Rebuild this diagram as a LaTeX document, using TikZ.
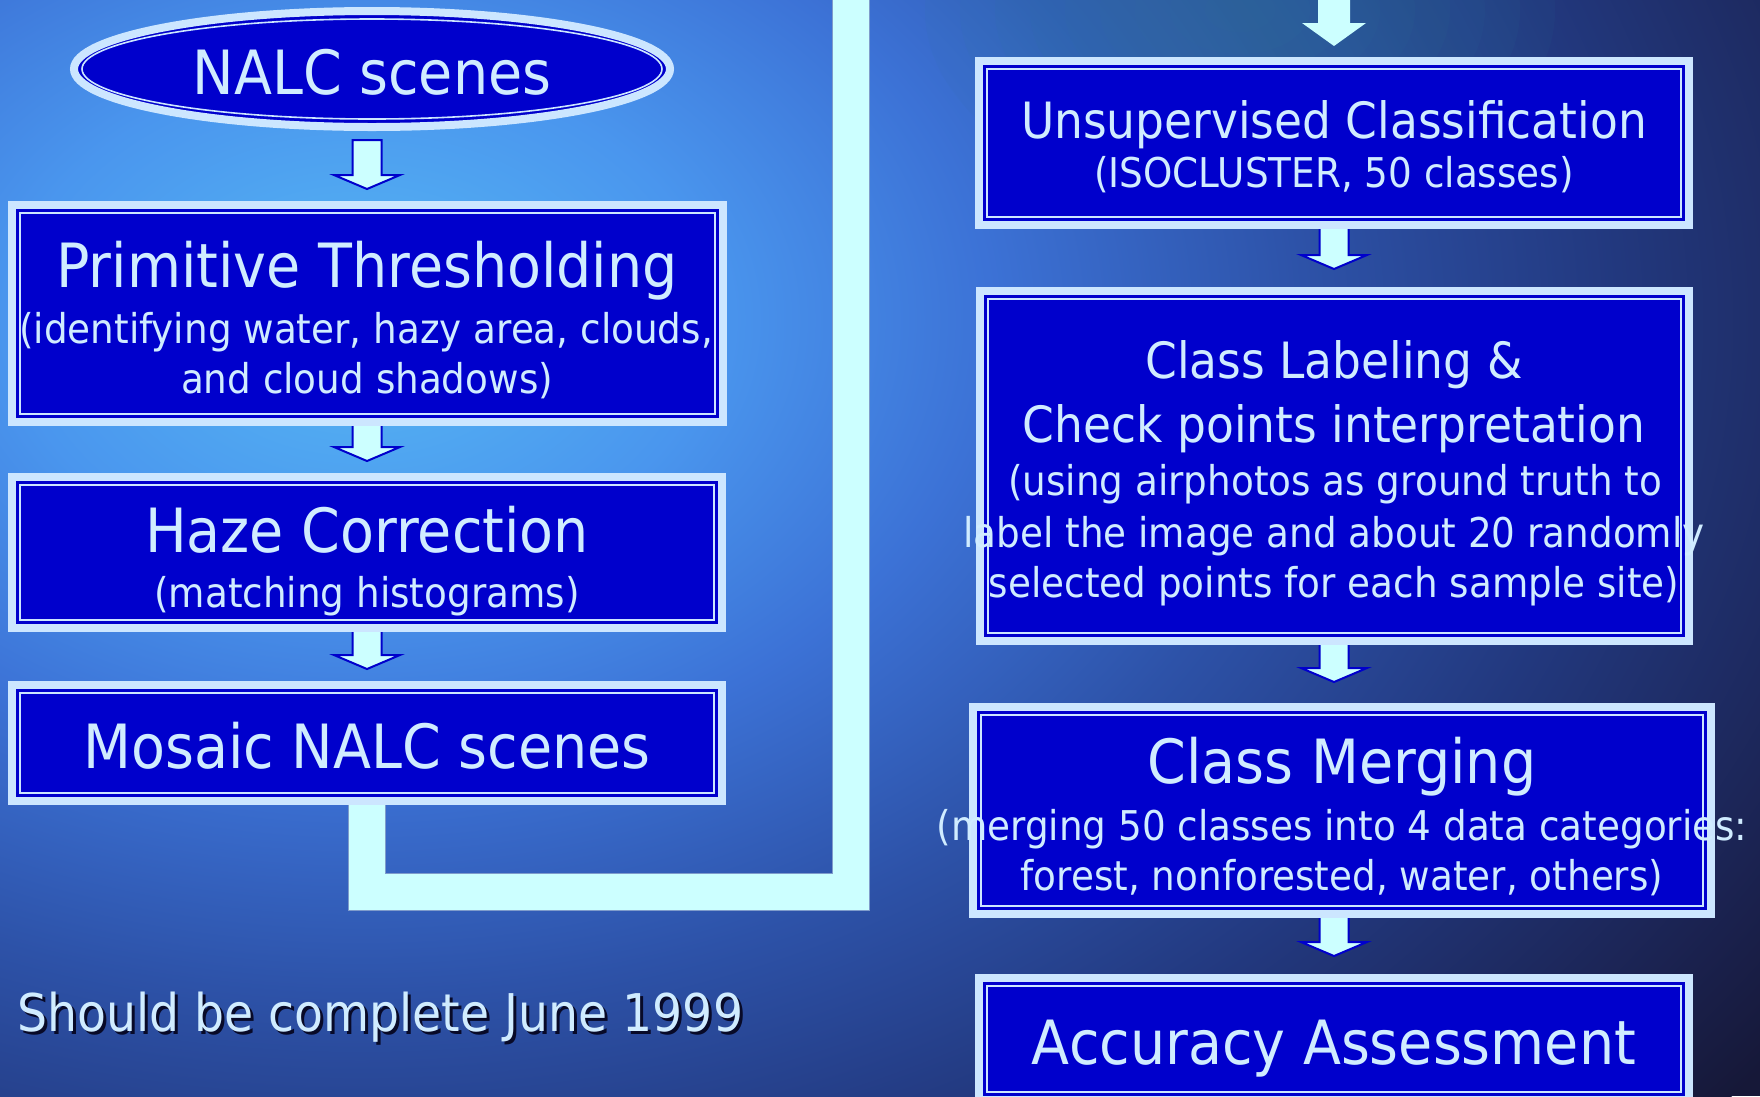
\documentclass[tikz,border=0pt]{standalone}
\usepackage{fontspec}
\setmainfont{DejaVu Sans}[FakeStretch=0.91]
\usetikzlibrary{calc,shapes.geometric}
\definecolor{boxblue}{HTML}{0000CC}
\definecolor{band}{HTML}{CCE6FF}
\definecolor{txt}{HTML}{D0ECFF}
\definecolor{flow}{HTML}{CCFFFF}
\definecolor{flowedge}{HTML}{7F9CCB}
\definecolor{shadowc}{HTML}{080A28}
\definecolor{glow}{HTML}{2F7A9A}
\definecolor{bga}{HTML}{56B8F4}
\definecolor{bgb}{HTML}{4A96EE}
\definecolor{bgc}{HTML}{3C72D6}
\definecolor{bgd}{HTML}{2D52A8}
\definecolor{bge}{HTML}{22387E}
\definecolor{bgf}{HTML}{1B2352}
\definecolor{bgg}{HTML}{161838}
\pgfdeclareradialshading{bgshade}{\pgfpoint{0bp}{0bp}}{color(0bp)=(bga); color(5bp)=(bgb); color(9bp)=(bgc); color(13.5bp)=(bgd); color(18bp)=(bge); color(22.5bp)=(bgf); color(25bp)=(bgg); color(50bp)=(bgg)}
\pgfdeclarelayer{back}
\pgfdeclarelayer{flowlayer}
\pgfsetlayers{back,flowlayer,main}
\tikzset{
  stepbox/.style={rectangle, inner sep=0pt, fill=boxblue, draw=band, line width=8pt,
    path picture={\draw[band, line width=2pt]
      ([shift={(8pt,-8pt)}]path picture bounding box.north west) rectangle
      ([shift={(-8pt,8pt)}]path picture bounding box.south east);}},
  ovalbox/.style={ellipse, inner sep=0pt, fill=boxblue, draw=band, line width=8pt,
    path picture={\draw[band, line width=1.6pt] (path picture bounding box.center)
      ellipse [x radius=290pt, y radius=50pt];}},
  ttl/.style={text=txt, anchor=base, inner sep=0pt, font=\fontsize{61pt}{70pt}\selectfont},
  ttlr/.style={ttl, font=\fontsize{50pt}{60pt}\selectfont},
  subt/.style={ttl, font=\fontsize{41pt}{50pt}\selectfont},
  blockarrow/.style={fill=flow, draw=boxblue, line width=2pt, line join=miter},
  conn/.style={draw=flow, line width=36pt, line join=miter,
    preaction={draw=flowedge, line width=38pt, line join=miter}},
}
% arrow from node #1 (south) to node #2 (north), gap #3, x taken from node #4
\newcommand\flowarrow[4]{%
  \path[blockarrow] let \p1=(#1.south), \p2=(#2.north), \p3=(#4.center) in
    (\x3-14.5pt,\y1) -- (\x3-14.5pt,\y2+#3+14pt) -- (\x3-33pt,\y2+#3+14pt) --
    (\x3,\y2+#3) -- (\x3+33pt,\y2+#3+14pt) -- (\x3+14.5pt,\y2+#3+14pt) -- (\x3+14.5pt,\y1);
}
\begin{document}
\begin{tikzpicture}[x=1pt, y=-1pt]
\useasboundingbox (0,0) rectangle (1760,1096);
\begin{pgfonlayer}{back}
  \fill[bgg] (0,0) rectangle (1760,1096);
  \begin{scope}
    \clip (0,0) rectangle (1760,1096);
    \shade[shading=bgshade] (360,320) ellipse [x radius=1750, y radius=1250];
    \foreach \r in {1,...,9}
      \fill[glow, opacity=0.07] (1240,10) ellipse [x radius=35*\r, y radius=22*\r];
  \end{scope}
\end{pgfonlayer}

% ---- left column ----
\node[ovalbox, minimum width=596pt, minimum height=116pt] (nalc) at (372,69) {};
\node[stepbox, minimum width=711pt, minimum height=217pt] (thresh) at (367,313.5) {};
\node[stepbox, minimum width=710pt, minimum height=151pt] (haze) at (367,552.5) {};
\node[stepbox, minimum width=710pt, minimum height=116pt] (mosaic) at (367,743) {};

% ---- right column ----
\node[stepbox, minimum width=710pt, minimum height=164pt] (unsup) at (1334,143) {};
\node[stepbox, minimum width=709pt, minimum height=350pt] (label) at (1334,466) {};
\node[stepbox, minimum width=738pt, minimum height=207pt] (merge) at (1342,810.5) {};
\node[stepbox, minimum width=710pt, minimum height=122pt] (acc) at (1334,1039) {};

% ---- texts ----
\node[ttl] (tnalc) at (372,94) {NALC scenes};
\node[ttl] (tthresh) at (367,287) {Primitive Thresholding};
\node[subt] (sthresha) at (366,343) {(identifying water, hazy area, clouds,};
\node[subt] (sthreshb) at (367,393) {and cloud shadows)};
\node[ttl] (thaze) at (367,552) {Haze Correction};
\node[subt] (shaze) at (367,607) {(matching histograms)};
\node[ttl] (tmosaic) at (367,768) {Mosaic NALC scenes};

\node[ttlr] (tunsup) at (1334,138) {Unsupervised Classification};
\node[subt] (sunsup) at (1334,187) {(ISOCLUSTER, 50 classes)};
\node[ttlr] (tlabela) at (1334,378) {Class Labeling \&};
\node[ttlr] (tlabelb) at (1334,442) {Check points interpretation};
\node[subt] (slabela) at (1335,495) {(using airphotos as ground truth to};
\node[subt] (slabelb) at (1334,547) {label the image and about 20 randomly};
\node[subt] (slabelc) at (1334,597) {selected points for each sample site)};
\node[ttl] (tmerge) at (1342,783) {Class Merging};
\node[subt] (smergea) at (1342,840) {(merging 50 classes into 4 data categories:};
\node[subt] (smergeb) at (1342,890) {forest, nonforested, water, others)};
\node[ttl] (tacc) at (1334,1064) {Accuracy Assessment};

\node[text=shadowc, anchor=base west, inner sep=0pt, font=\fontsize{52pt}{60pt}\selectfont] (noteshadow) at (20,1034) {Should be complete June 1999};
\node[text=txt, anchor=base west, inner sep=0pt, font=\fontsize{52pt}{60pt}\selectfont] (note) at (17,1031) {Should be complete June 1999};

% ---- connectors ----
\begin{pgfonlayer}{flowlayer}
  \coordinate (bend) at (851,892);
  \coordinate (topout) at (851,-30);
  \draw[conn] (mosaic.south) |- (bend) -- (topout);

  \path[blockarrow] let \p1=(nalc.south), \p2=(thresh.north) in
    (\x2-14.5pt,\y2+61pt) -- (\x2-14.5pt,\y2+26pt) -- (\x2-33pt,\y2+26pt) --
    (\x2,\y2+12pt) -- (\x2+33pt,\y2+26pt) -- (\x2+14.5pt,\y2+26pt) --
    (\x2+14.5pt,\y2+61pt) -- cycle;
  \flowarrow{thresh}{haze}{12pt}{haze}
  \flowarrow{haze}{mosaic}{12pt}{mosaic}

  \coordinate (topin) at (1334,-10);
  \fill[flow] let \p1=(topin), \p2=(unsup.north) in
    (\x2-16pt,\y1) -- (\x2-16pt,\y2+34pt) -- (\x2-32pt,\y2+34pt) --
    (\x2,\y2+11pt) -- (\x2+32pt,\y2+34pt) -- (\x2+16pt,\y2+34pt) -- (\x2+16pt,\y1) -- cycle;
  \flowarrow{unsup}{label}{18pt}{label}
  \flowarrow{label}{merge}{21pt}{label}
  \flowarrow{merge}{acc}{18pt}{acc}
\end{pgfonlayer}
\end{tikzpicture}
\end{document}
